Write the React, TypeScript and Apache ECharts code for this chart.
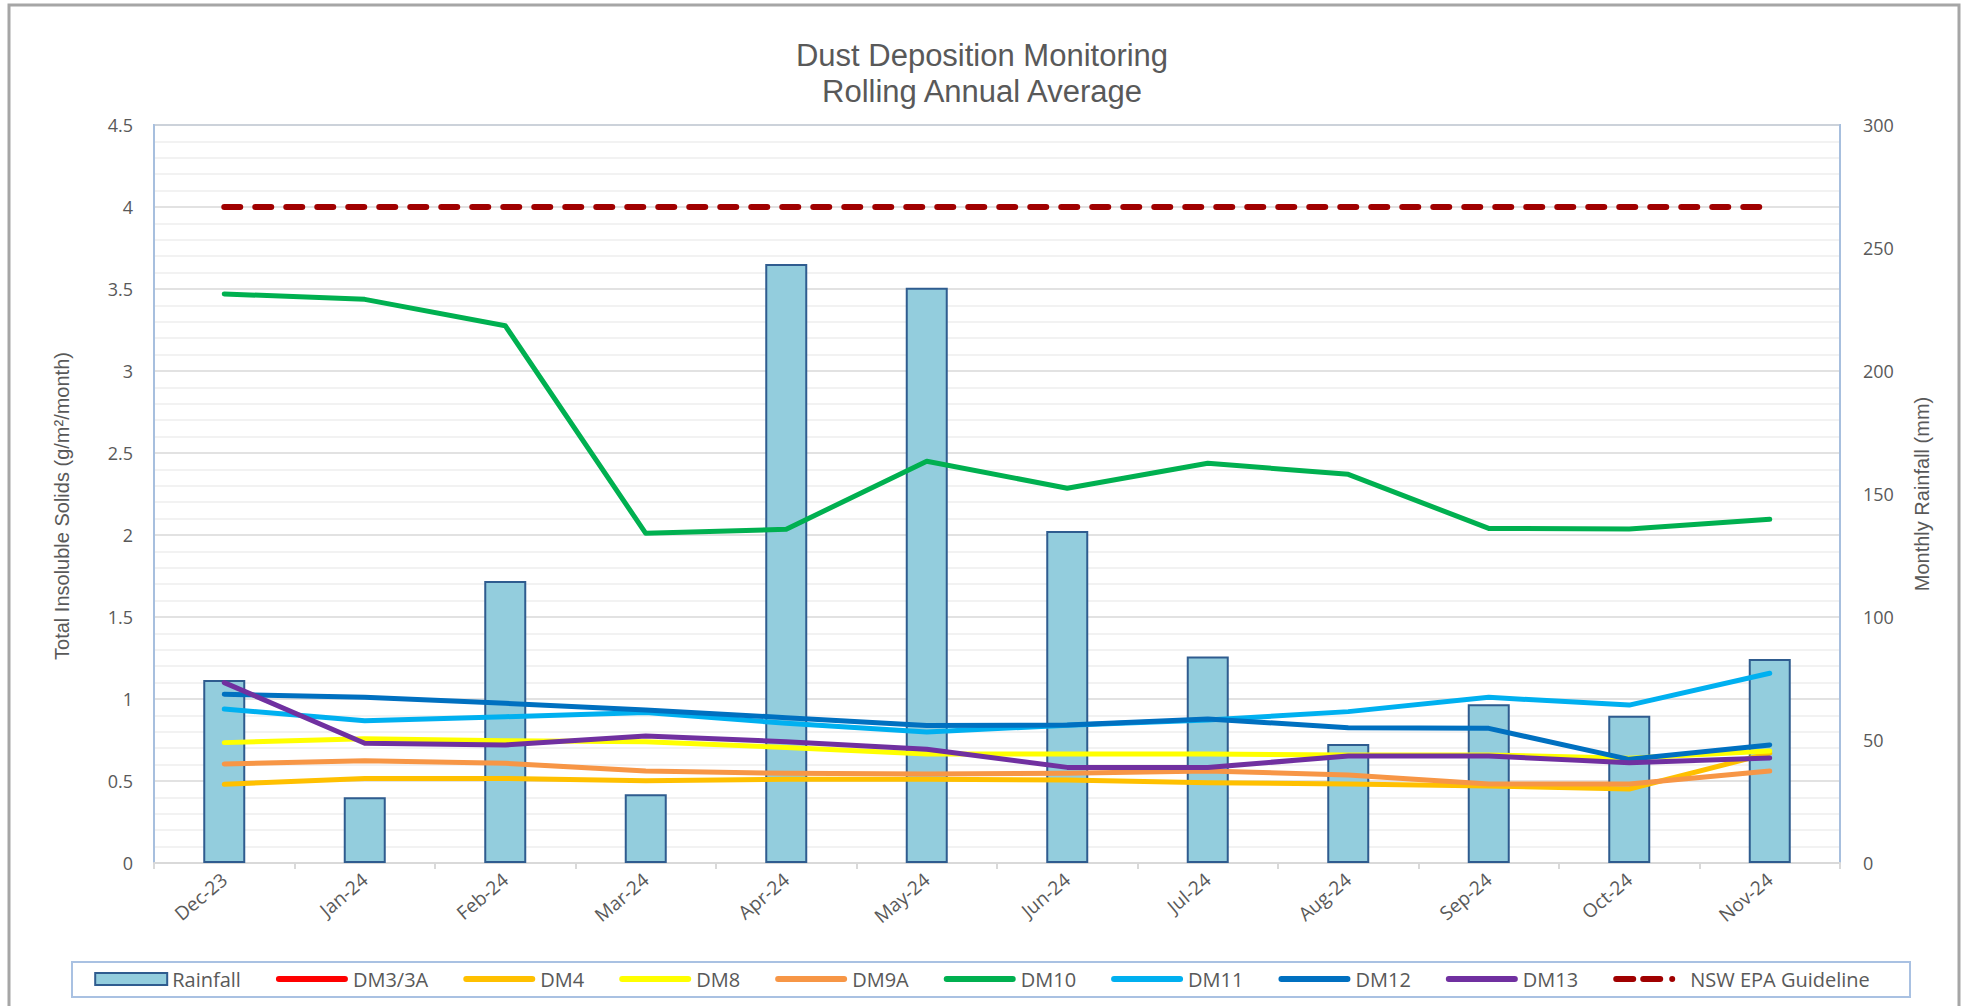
import React, { useEffect, useRef } from "react";
import * as echarts from "echarts";

const categories = ["Dec-23", "Jan-24", "Feb-24", "Mar-24", "Apr-24", "May-24", "Jun-24", "Jul-24", "Aug-24", "Sep-24", "Oct-24", "Nov-24"];
const rainfall = [74.4, 26.7, 114.6, 27.9, 243.5, 233.8, 135, 83.9, 48.4, 64.5, 59.9, 82.9];
const dm3: (number | null)[] = [];
const dm4 = [0.48, 0.515, 0.515, 0.502, 0.51, 0.51, 0.506, 0.49, 0.482, 0.47, 0.451, 0.67];
const dm8 = [0.734, 0.758, 0.746, 0.74, 0.705, 0.665, 0.665, 0.665, 0.659, 0.659, 0.638, 0.683];
const dm9a = [0.604, 0.624, 0.608, 0.561, 0.547, 0.543, 0.547, 0.561, 0.537, 0.482, 0.482, 0.561];
const dm10 = [3.47, 3.437, 3.276, 2.01, 2.035, 2.45, 2.285, 2.437, 2.37, 2.04, 2.037, 2.096];
const dm11 = [0.939, 0.868, 0.892, 0.917, 0.852, 0.799, 0.84, 0.872, 0.923, 1.01, 0.963, 1.157];
const dm12 = [1.029, 1.01, 0.974, 0.933, 0.886, 0.838, 0.841, 0.878, 0.825, 0.821, 0.632, 0.72];
const dm13 = [1.1, 0.73, 0.72, 0.774, 0.74, 0.693, 0.583, 0.583, 0.652, 0.652, 0.612, 0.64];
const guideline = [4, 4, 4, 4, 4, 4, 4, 4, 4, 4, 4, 4];

const titleLines = ["Dust Deposition Monitoring", "Rolling Annual Average"];
const leftTicks = { min: 0, max: 4.5, interval: 0.5 };
const rightTicks = { min: 0, max: 300, interval: 50 };

const FONT = "'Open Sans', sans-serif";
const TITLE_FONT = "'Liberation Sans', Arial, sans-serif";
const GREY = "#595959";

// legend icons (bounding points at 0,0 and 72,12 keep the icon box fixed)
const BOX = "M0,0L0,0M72,12L72,12";
const LINE_ICON = "path://" + BOX + "M3,3L69,3A3,3,0,0,1,69,9L3,9A3,3,0,0,1,3,3Z";
const DASH_ICON =
  "path://" + BOX +
  "M3,3L20,3A3,3,0,0,1,20,9L3,9A3,3,0,0,1,3,3Z" +
  "M30,3L47,3A3,3,0,0,1,47,9L30,9A3,3,0,0,1,30,3Z" +
  "M59,3A3,3,0,0,1,59,9A3,3,0,0,1,59,3Z";
const BAR_ICON = "rect";

function lineSeries(name: string, data: (number | null)[], color: string) {
  return {
    name,
    type: "line",
    data,
    yAxisIndex: 0,
    symbol: "none",
    color,
    itemStyle: { color },
    lineStyle: { width: 5, color, cap: "round", join: "round" },
    z: 3,
  };
}

export default function App() {
  const ref = useRef<HTMLDivElement>(null);
  useEffect(() => {
    document.body.style.margin = "0";
    document.body.style.overflow = "hidden";
    const chart = echarts.init(ref.current!, null, { renderer: "svg" });
    const titleStyle = { fontFamily: TITLE_FONT, fontSize: 31, fontWeight: "normal", color: GREY, lineHeight: 36 };
    chart.setOption({
      animation: false,
      backgroundColor: "#ffffff",
      title: [
        { text: titleLines[0], left: "center", top: 37, padding: 0, textStyle: titleStyle },
        { text: titleLines[1], left: "center", top: 73, padding: 0, textStyle: titleStyle },
      ],
      graphic: [
        { type: "rect", shape: { x: 9, y: 5, width: 1950, height: 1010 }, style: { fill: "none", stroke: "#A6A6A6", lineWidth: 3 }, silent: true },
        { type: "rect", shape: { x: 72, y: 962, width: 1838, height: 35 }, style: { fill: "none", stroke: "#A9C1E2", lineWidth: 2 }, silent: true },
      ],
      grid: { left: 154, right: 124, top: 125, bottom: 143, show: true, borderColor: "#A7BFDE", borderWidth: 2 },
      legend: {
        left: "center",
        top: 964,
        itemWidth: 72,
        itemHeight: 12,
        itemGap: 35,
        textStyle: { fontFamily: FONT, fontSize: 20, color: GREY },
        data: [
          { name: "Rainfall", icon: BAR_ICON },
          { name: "DM3/3A", icon: LINE_ICON },
          { name: "DM4", icon: LINE_ICON },
          { name: "DM8", icon: LINE_ICON },
          { name: "DM9A", icon: LINE_ICON },
          { name: "DM10", icon: LINE_ICON },
          { name: "DM11", icon: LINE_ICON },
          { name: "DM12", icon: LINE_ICON },
          { name: "DM13", icon: LINE_ICON },
          { name: "NSW EPA Guideline", icon: DASH_ICON },
        ],
      },
      xAxis: {
        type: "category",
        data: categories,
        boundaryGap: true,
        axisLine: { lineStyle: { color: "#D9D9D9", width: 2 } },
        axisTick: { show: true, length: 6, lineStyle: { color: "#D9D9D9", width: 2 } },
        axisLabel: { rotate: 40, color: GREY, fontFamily: FONT, fontSize: 19, margin: 14 },
      },
      yAxis: [
        {
          type: "value",
          position: "left",
          ...leftTicks,
          name: "Total Insoluble Solids (g/m²/month)",
          nameLocation: "middle",
          nameGap: 82,
          nameTextStyle: { fontFamily: TITLE_FONT, fontSize: 20, color: GREY, padding: [0, 24, 0, 0] },
          axisLine: { show: true, lineStyle: { color: "#A7BFDE", width: 2 } },
          axisTick: { show: false },
          axisLabel: { color: GREY, fontFamily: FONT, fontSize: 18, margin: 21 },
          splitLine: { show: true, lineStyle: { color: "#D9D9D9", width: 1.5 } },
          minorTick: { show: false, splitNumber: 5 },
          minorSplitLine: { show: true, lineStyle: { color: "#EEEEEE", width: 1.5 } },
        },
        {
          type: "value",
          position: "right",
          ...rightTicks,
          name: "Monthly Rainfall (mm)",
          nameLocation: "middle",
          nameGap: 72,
          nameRotate: 90,
          nameTextStyle: { fontFamily: TITLE_FONT, fontSize: 20, color: GREY },
          axisLine: { show: true, lineStyle: { color: "#A7BFDE", width: 2 } },
          axisTick: { show: false },
          axisLabel: { color: GREY, fontFamily: FONT, fontSize: 18, margin: 23 },
          splitLine: { show: false },
        },
      ],
      series: [
        {
          name: "Rainfall",
          type: "bar",
          data: rainfall,
          yAxisIndex: 1,
          barWidth: 42,
          color: "#93CDDD",
          itemStyle: { color: "#93CDDD", borderColor: "#2F5C8F", borderWidth: 2 },
          z: 2,
        },
        lineSeries("DM3/3A", dm3, "#FF0000"),
        lineSeries("DM4", dm4, "#FFC000"),
        lineSeries("DM8", dm8, "#FFFF00"),
        lineSeries("DM9A", dm9a, "#F79646"),
        lineSeries("DM10", dm10, "#00B050"),
        lineSeries("DM11", dm11, "#00B0F0"),
        lineSeries("DM12", dm12, "#0070C0"),
        lineSeries("DM13", dm13, "#7030A0"),
        {
          name: "NSW EPA Guideline",
          type: "line",
          data: guideline,
          yAxisIndex: 0,
          symbol: "none",
          color: "#A00000",
          itemStyle: { color: "#A00000" },
          lineStyle: { width: 6, color: "#A00000", type: [16, 15], cap: "round" },
          z: 4,
        },
      ],
    });
    return () => chart.dispose();
  }, []);
  return <div ref={ref} style={{ width: 1964, height: 1006 }} />;
}
